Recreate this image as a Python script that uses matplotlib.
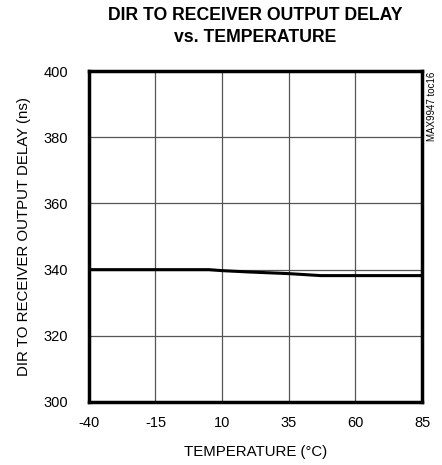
import matplotlib
matplotlib.use("Agg")
import matplotlib.pyplot as plt

plt.rcParams['font.family'] = ['Liberation Sans', 'DejaVu Sans']
plt.rcParams['axes.unicode_minus'] = False

# Data
temperature = [-40, -15, 5, 10, 20, 35, 47, 60, 85]
delay = [340.0, 340.0, 340.0, 339.7, 339.3, 338.8, 338.2, 338.2, 338.2]

x_ticks = [-40, -15, 10, 35, 60, 85]
y_ticks = [300, 320, 340, 360, 380, 400]

fig = plt.figure(figsize=(4.42, 4.65), dpi=100)
ax = fig.add_axes([0.201, 0.1355, 0.754, 0.7115])

ax.plot(temperature, delay, color='black', linewidth=2.2)

ax.set_xlim(-40, 85)
ax.set_ylim(300, 400)
ax.set_xticks(x_ticks)
ax.set_yticks(y_ticks)
ax.grid(True, color='#555555', linewidth=0.9)
ax.tick_params(length=0, labelsize=10.5)
ax.tick_params(axis='x', pad=10)
ax.tick_params(axis='y', pad=15)
for s in ax.spines.values():
    s.set_linewidth(2.5)

ax.set_xlabel("TEMPERATURE (°C)", fontsize=10.8, labelpad=11)
ax.set_ylabel("DIR TO RECEIVER OUTPUT DELAY (ns)", fontsize=10.8, labelpad=9)
ax.set_title("DIR TO RECEIVER OUTPUT DELAY\nvs. TEMPERATURE", fontsize=12.7,
             fontweight='bold', pad=21, linespacing=1.4)

fig.text(0.966, 0.845, "MAX9947 toc16", rotation=90, fontsize=7,
         ha='left', va='top')

fig.savefig("out.png", dpi=100)
